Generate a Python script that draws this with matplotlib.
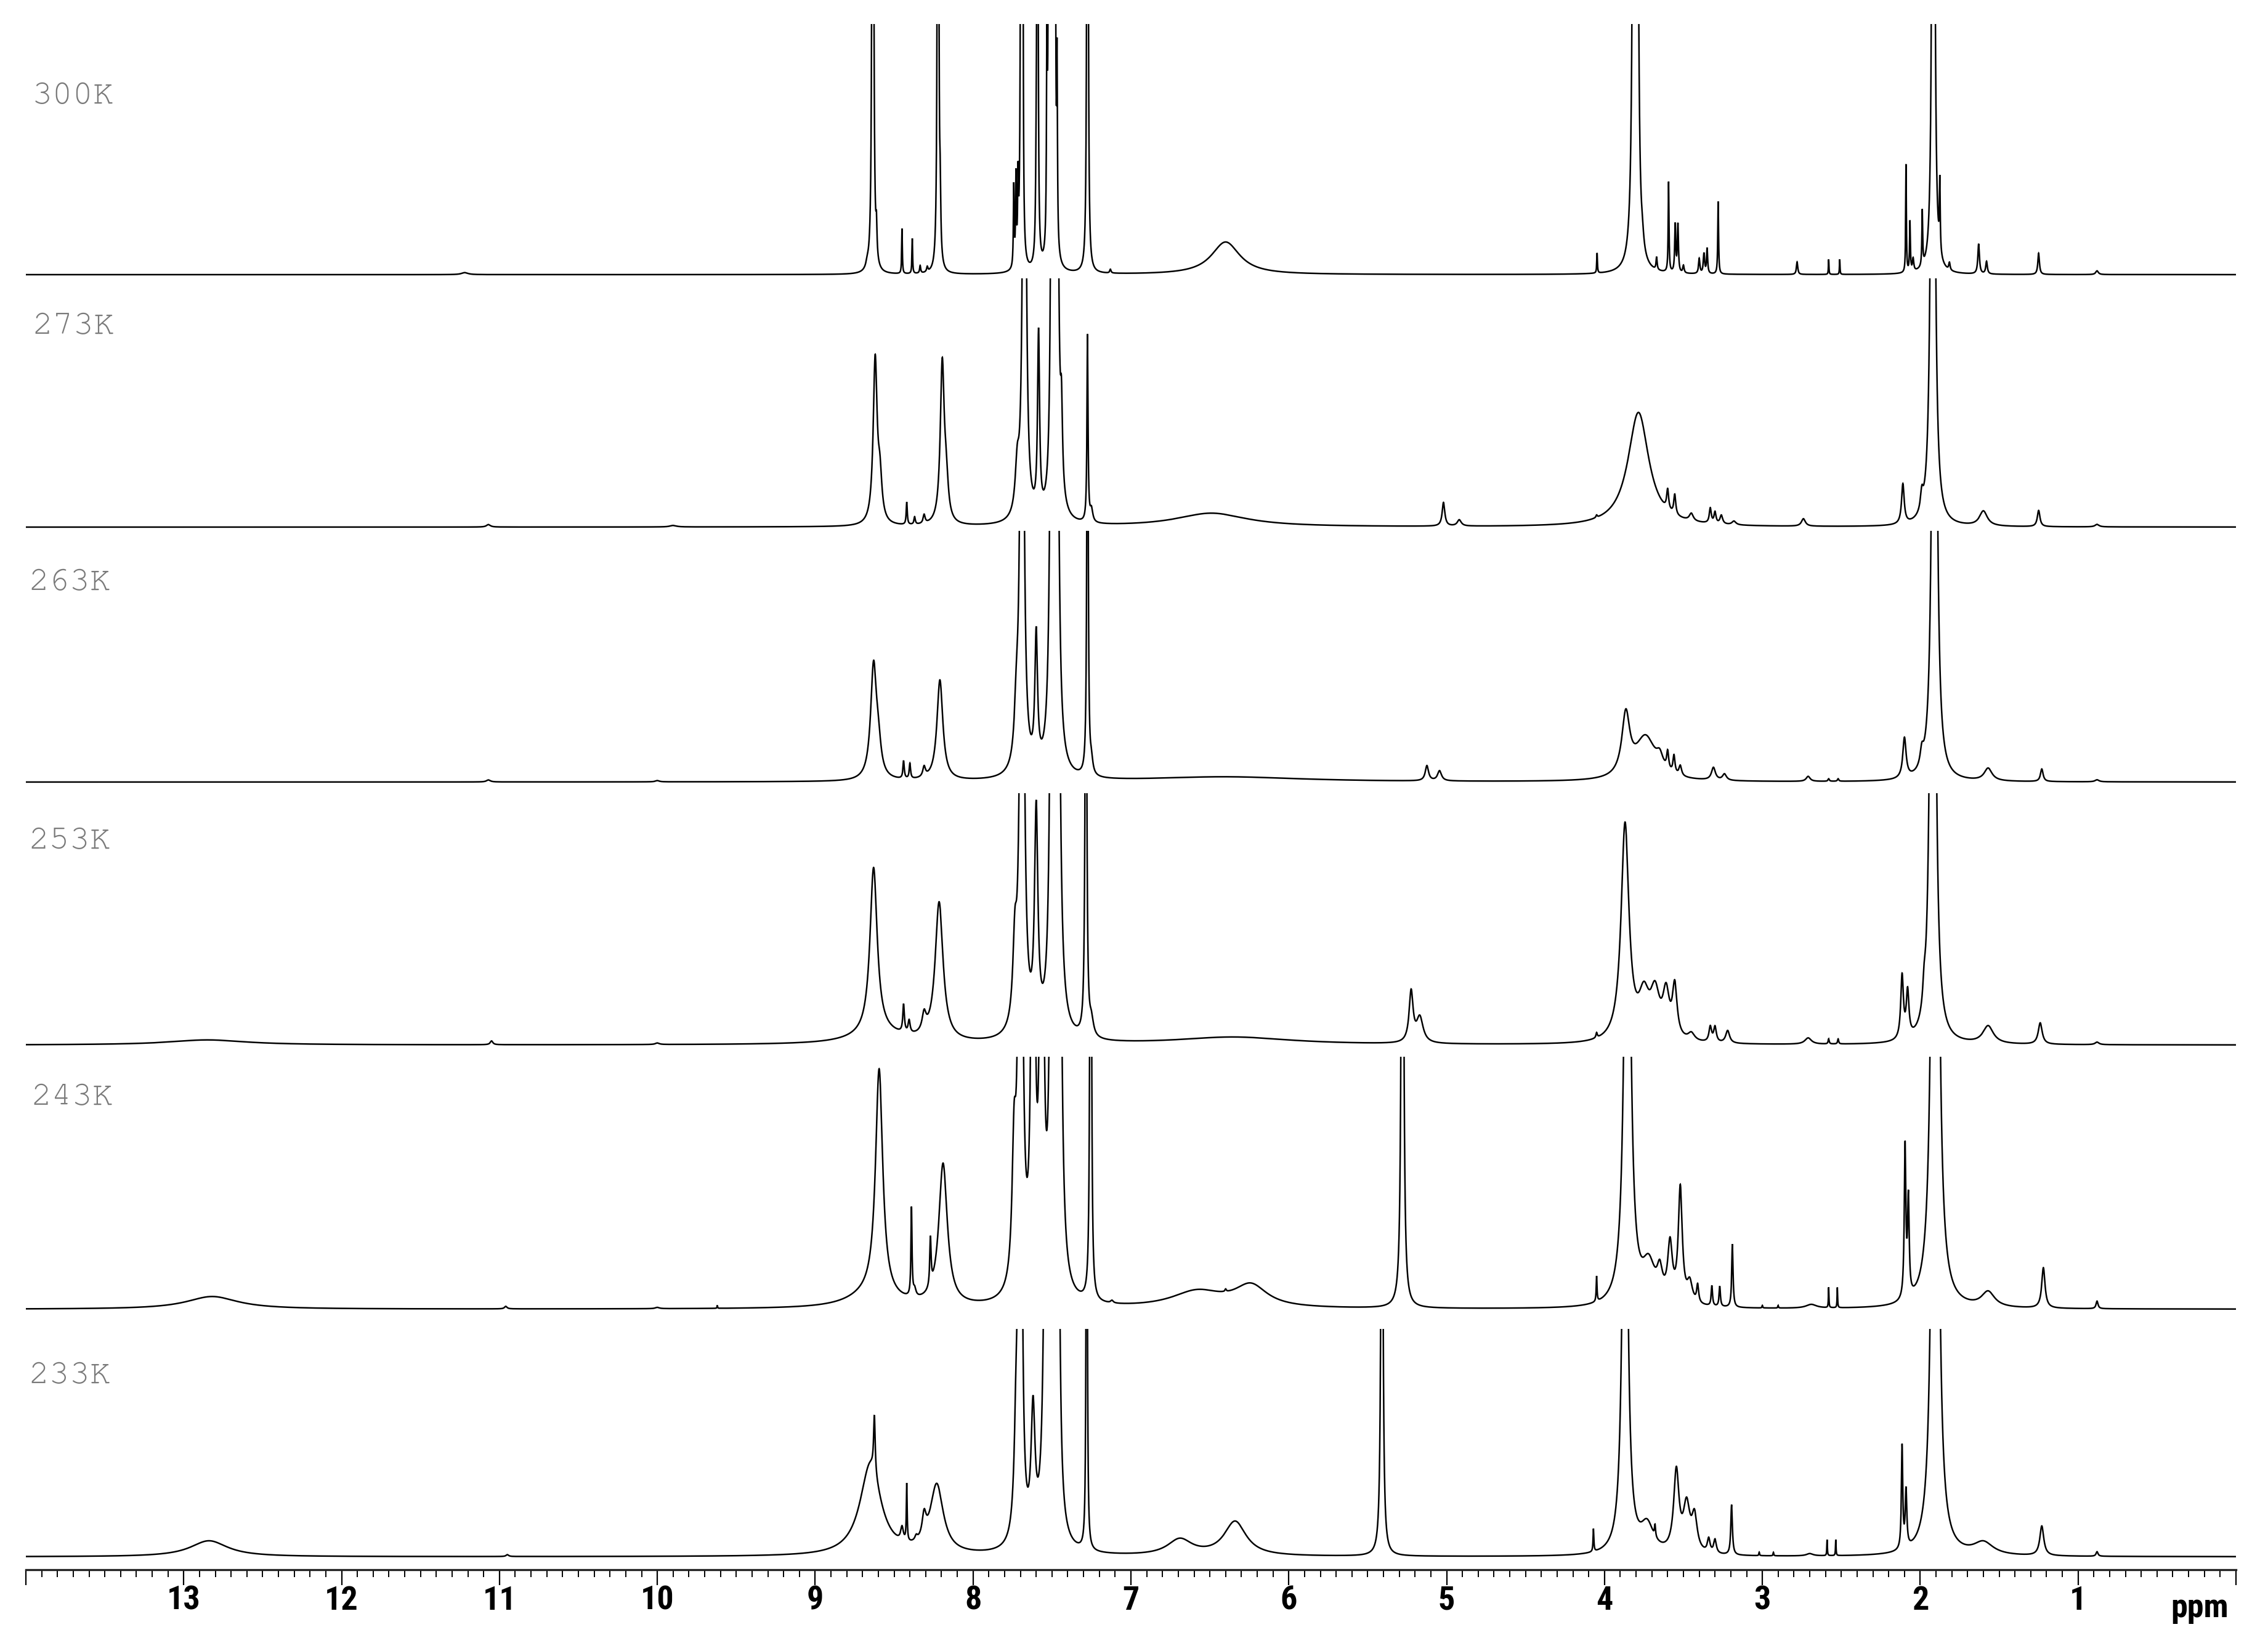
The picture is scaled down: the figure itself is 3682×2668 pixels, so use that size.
import numpy as np
import matplotlib
matplotlib.use('Agg')
import matplotlib.pyplot as plt
from matplotlib import font_manager
from matplotlib.font_manager import FontProperties
from matplotlib.ticker import MultipleLocator
from matplotlib.transforms import blended_transform_factory

# ---------------- data (center ppm, relative height, FWHM ppm) ----------------
temperatures = ['300K', '273K', '263K', '253K', '243K', '233K']

peaks_300K = [
    (11.22, 0.008, 0.05), (8.67, 0.02, 0.02), (8.635, 8.0, 0.006), (8.612, 0.12, 0.008),
    (8.45, 0.18, 0.005), (8.385, 0.14, 0.005), (8.335, 0.03, 0.008), (8.29, 0.02, 0.01),
    (8.222, 6.0, 0.006), (8.208, 0.2, 0.008), (7.742, 0.32, 0.006), (7.728, 0.34, 0.006),
    (7.715, 0.3, 0.006), (7.695, 5.0, 0.006), (7.685, 1.5, 0.006), (7.600, 0.2, 0.008),
    (7.592, 4.0, 0.006), (7.532, 0.85, 0.006), (7.520, 3.0, 0.006), (7.507, 4.0, 0.006),
    (7.494, 4.0, 0.006), (7.481, 3.0, 0.006), (7.468, 0.7, 0.006), (7.275, 8.0, 0.005),
    (7.13, 0.015, 0.01), (6.40, 0.13, 0.22), (4.047, 0.08, 0.005), (3.812, 6.0, 0.012),
    (3.795, 4.0, 0.012), (3.76, 0.04, 0.02), (3.67, 0.05, 0.008), (3.594, 0.36, 0.006),
    (3.552, 0.19, 0.008), (3.535, 0.19, 0.008), (3.50, 0.03, 0.01), (3.40, 0.06, 0.01),
    (3.37, 0.08, 0.01), (3.35, 0.10, 0.008), (3.28, 0.29, 0.006), (2.78, 0.05, 0.01),
    (2.58, 0.06, 0.004), (2.51, 0.06, 0.004), (2.09, 0.43, 0.005), (2.065, 0.2, 0.006),
    (2.045, 0.05, 0.01), (1.987, 0.22, 0.006), (1.917, 8.0, 0.01), (1.876, 0.28, 0.006),
    (1.815, 0.03, 0.01), (1.63, 0.12, 0.012), (1.58, 0.05, 0.012), (1.25, 0.085, 0.012),
    (0.88, 0.015, 0.02),
]

peaks_273K = [
    (11.07, 0.01, 0.03), (9.90, 0.006, 0.05), (8.62, 0.66, 0.03), (8.59, 0.16, 0.03),
    (8.42, 0.09, 0.008), (8.37, 0.03, 0.01), (8.31, 0.035, 0.015), (8.195, 0.64, 0.03),
    (8.17, 0.14, 0.03), (7.72, 0.18, 0.03), (7.675, 3.0, 0.02), (7.585, 0.72, 0.015),
    (7.500, 2.5, 0.015), (7.470, 2.5, 0.02), (7.44, 0.3, 0.015), (7.275, 0.75, 0.008),
    (7.25, 0.05, 0.02), (6.49, 0.055, 0.55), (5.02, 0.095, 0.02), (4.92, 0.025, 0.03),
    (4.05, 0.01, 0.01), (3.785, 0.46, 0.16), (3.60, 0.08, 0.015), (3.555, 0.08, 0.015),
    (3.45, 0.03, 0.03), (3.33, 0.06, 0.015), (3.30, 0.045, 0.015), (3.26, 0.035, 0.02),
    (3.18, 0.015, 0.03), (2.74, 0.03, 0.03), (2.11, 0.16, 0.02), (1.99, 0.07, 0.02),
    (1.92, 4.0, 0.022), (1.60, 0.06, 0.06), (1.25, 0.065, 0.02), (0.88, 0.01, 0.03),
]

peaks_263K = [
    (11.07, 0.008, 0.03), (10.0, 0.005, 0.03), (8.63, 0.45, 0.045), (8.60, 0.10, 0.04),
    (8.44, 0.07, 0.01), (8.40, 0.06, 0.01), (8.31, 0.04, 0.02), (8.21, 0.40, 0.045),
    (7.725, 0.2, 0.03), (7.69, 3.0, 0.022), (7.60, 0.52, 0.02), (7.50, 3.0, 0.02),
    (7.47, 2.5, 0.022), (7.275, 2.5, 0.008), (7.25, 0.05, 0.02), (6.40, 0.02, 1.2),
    (5.125, 0.06, 0.025), (5.045, 0.04, 0.03), (3.865, 0.24, 0.06), (3.74, 0.17, 0.16),
    (3.65, 0.05, 0.05), (3.60, 0.07, 0.015), (3.56, 0.07, 0.015), (3.52, 0.04, 0.02),
    (3.31, 0.05, 0.03), (3.24, 0.025, 0.03), (2.71, 0.02, 0.03), (2.58, 0.01, 0.01),
    (2.52, 0.01, 0.01), (2.10, 0.16, 0.025), (1.99, 0.06, 0.025), (1.91, 4.0, 0.025),
    (1.57, 0.05, 0.06), (1.23, 0.05, 0.02), (0.88, 0.008, 0.03),
]

peaks_253K = [
    (12.85, 0.02, 0.6), (11.05, 0.015, 0.02), (10.0, 0.006, 0.03), (8.60, 0.04, 0.4),
    (8.63, 0.66, 0.055), (8.44, 0.11, 0.012), (8.405, 0.05, 0.015), (8.31, 0.07, 0.03),
    (8.215, 0.55, 0.06), (7.735, 0.3, 0.03), (7.69, 3.0, 0.025), (7.60, 0.85, 0.025),
    (7.50, 3.0, 0.02), (7.465, 3.0, 0.025), (7.285, 2.5, 0.01), (7.25, 0.06, 0.03),
    (6.35, 0.03, 0.9), (5.225, 0.2, 0.03), (5.17, 0.1, 0.05), (4.05, 0.02, 0.01),
    (3.87, 0.86, 0.06), (3.75, 0.16, 0.08), (3.68, 0.17, 0.07), (3.61, 0.17, 0.05),
    (3.555, 0.2, 0.035), (3.45, 0.03, 0.05), (3.33, 0.06, 0.02), (3.30, 0.06, 0.02),
    (3.22, 0.05, 0.03), (2.71, 0.025, 0.05), (2.58, 0.02, 0.008), (2.52, 0.02, 0.008),
    (2.115, 0.25, 0.02), (2.08, 0.18, 0.02), (1.975, 0.08, 0.02), (1.92, 5.0, 0.025),
    (1.57, 0.07, 0.08), (1.24, 0.085, 0.03), (0.88, 0.01, 0.03),
]

peaks_243K = [
    (12.82, 0.05, 0.4), (10.96, 0.01, 0.02), (10.0, 0.005, 0.03), (9.62, 0.012, 0.004),
    (8.65, 0.05, 0.35), (8.595, 0.9, 0.055), (8.39, 0.35, 0.008), (8.37, 0.03, 0.02),
    (8.27, 0.19, 0.01), (8.19, 0.56, 0.065), (7.74, 0.5, 0.03), (7.70, 3.0, 0.025),
    (7.62, 3.0, 0.02), (7.565, 3.0, 0.02), (7.50, 3.0, 0.022), (7.455, 3.0, 0.025),
    (7.255, 4.0, 0.008), (7.12, 0.01, 0.02), (6.58, 0.065, 0.4), (6.40, 0.01, 0.01),
    (6.24, 0.085, 0.25), (5.28, 4.0, 0.012), (4.05, 0.1, 0.006), (3.855, 2.5, 0.04),
    (3.72, 0.15, 0.1), (3.65, 0.1, 0.04), (3.585, 0.22, 0.035), (3.52, 0.45, 0.03),
    (3.46, 0.08, 0.04), (3.41, 0.07, 0.015), (3.32, 0.08, 0.01), (3.27, 0.08, 0.01),
    (3.19, 0.25, 0.01), (3.00, 0.01, 0.005), (2.90, 0.01, 0.005), (2.69, 0.015, 0.08),
    (2.58, 0.08, 0.004), (2.525, 0.08, 0.004), (2.096, 0.6, 0.012), (2.075, 0.38, 0.012),
    (1.905, 6.0, 0.03), (1.57, 0.06, 0.1), (1.22, 0.16, 0.025), (0.88, 0.03, 0.015),
]

peaks_233K = [
    (12.84, 0.07, 0.29), (10.95, 0.008, 0.02), (8.65, 0.40, 0.16), (8.625, 0.25, 0.012),
    (8.45, 0.06, 0.02), (8.42, 0.25, 0.006), (8.36, 0.02, 0.02), (8.31, 0.10, 0.03),
    (8.23, 0.30, 0.10), (7.725, 0.5, 0.03), (7.70, 3.0, 0.02), (7.62, 0.55, 0.03),
    (7.535, 3.0, 0.025), (7.50, 3.0, 0.02), (7.465, 3.0, 0.02), (7.28, 4.0, 0.006),
    (6.69, 0.07, 0.19), (6.34, 0.15, 0.17), (5.41, 3.0, 0.012), (4.07, 0.10, 0.006),
    (3.87, 2.5, 0.035), (3.73, 0.12, 0.1), (3.68, 0.05, 0.008), (3.545, 0.35, 0.04),
    (3.48, 0.2, 0.05), (3.43, 0.15, 0.04), (3.34, 0.06, 0.02), (3.30, 0.06, 0.02),
    (3.195, 0.22, 0.012), (3.02, 0.015, 0.005), (2.93, 0.015, 0.005), (2.70, 0.01, 0.05),
    (2.59, 0.07, 0.004), (2.535, 0.07, 0.004), (2.115, 0.45, 0.01), (2.09, 0.25, 0.012),
    (1.905, 6.0, 0.03), (1.60, 0.055, 0.15), (1.23, 0.13, 0.03), (0.88, 0.02, 0.015),
]

all_peaks = [peaks_300K, peaks_273K, peaks_263K, peaks_253K, peaks_243K, peaks_233K]

major_ticks = list(range(0, 15))
tick_labels = ['' if v in (0, 14) else str(v) for v in major_ticks]

# ---------------- layout (pixels) ----------------
W, H, DPI = 3682, 2668, 100
bands = [(39, 446), (452, 856), (862, 1270), (1288, 1697), (1716, 2126), (2158, 2528)]
axis_y = 2549
left_px, right_px = 42, 3630
label_xy = [(52, 156), (52, 530), (46, 946), (46, 1366), (50, 1782), (46, 2234)]

# ---------------- fonts ----------------
ttf = font_manager.fontManager.ttflist
names = {f.name for f in ttf}

def find_condensed_bold():
    prefs = ['Liberation Sans Narrow', 'Roboto Condensed', 'Open Sans Condensed',
             'Noto Sans Condensed', 'DejaVu Sans']
    for p in prefs:
        for f in ttf:
            if f.name == p and str(f.stretch) in ('condensed', 'semi-condensed', '75', '87.5') \
               and (f.weight in ('bold', 700, '700') or 'Bold' in f.fname):
                return f.fname
            if f.name == p and p != 'DejaVu Sans' and (f.weight in ('bold', 700, '700') or 'Bold' in f.fname):
                return f.fname
    for f in ttf:
        if ('Narrow' in f.fname or 'Condensed' in f.fname) and 'Bold' in f.fname \
           and 'Italic' not in f.fname and 'Oblique' not in f.fname:
            return f.fname
    return None

cond = find_condensed_bold()
if cond:
    tick_fp = FontProperties(fname=cond, size=39)
else:
    tick_fp = FontProperties(family='Liberation Sans', weight='bold', size=32)

def pick(cands, default):
    for c in cands:
        if c in names:
            return c
    return default
mono_font = pick(['FreeMono', 'Nimbus Mono PS', 'Courier New', 'Liberation Mono'], 'DejaVu Sans Mono')

x = np.linspace(0.0, 14.0, 28001)

def spectrum(xv, peaks):
    y = np.zeros_like(xv)
    for c, h, w in peaks:
        y += h / (1.0 + ((xv - c) / (w / 2.0)) ** 2)
    return y

fig = plt.figure(figsize=(W / DPI, H / DPI), dpi=DPI)
fig.patch.set_facecolor('white')

n = len(bands)
for i, ((top, base), peaks, lab) in enumerate(zip(bands, all_peaks, temperatures)):
    last = (i == n - 1)
    bottom = axis_y if last else base + 5
    ax = fig.add_axes([left_px / W, 1 - bottom / H, (right_px - left_px) / W, (bottom - top) / H])
    ax.plot(x, spectrum(x, peaks), color='black', lw=1.8, solid_joinstyle='miter')
    ax.set_xlim(14, 0)
    ax.set_ylim(-(bottom - base) / (base - top), 1.0)
    ax.set_facecolor('none')
    for s in ['top', 'left', 'right']:
        ax.spines[s].set_visible(False)
    ax.set_yticks([])
    if last:
        ax.spines['bottom'].set_linewidth(2.4)
        ax.spines['bottom'].set_color('#222222')
        ax.set_xticks(major_ticks)
        ax.set_xticklabels(tick_labels)
        for t in ax.get_xticklabels():
            t.set_fontproperties(tick_fp)
        ax.xaxis.set_minor_locator(MultipleLocator(0.1))
        ax.tick_params(axis='x', which='major', length=18, width=1.6, direction='out',
                       pad=0, colors='black')
        ax.tick_params(axis='x', which='minor', length=8.5, width=1.4, direction='out',
                       colors='black')
        trans = blended_transform_factory(ax.transData, fig.transFigure)
        ax.text(0.23, 1 - 2626 / H, 'ppm', transform=trans, ha='center', va='baseline',
                fontproperties=tick_fp)
    else:
        ax.spines['bottom'].set_visible(False)
        ax.set_xticks([])
    lx, ly = label_xy[i]
    fig.text(lx / W, 1 - ly / H, lab, fontfamily=mono_font, fontsize=40, color='#7a7a7a',
             ha='left', va='center')

fig.savefig('out.png', dpi=DPI, facecolor='white')
